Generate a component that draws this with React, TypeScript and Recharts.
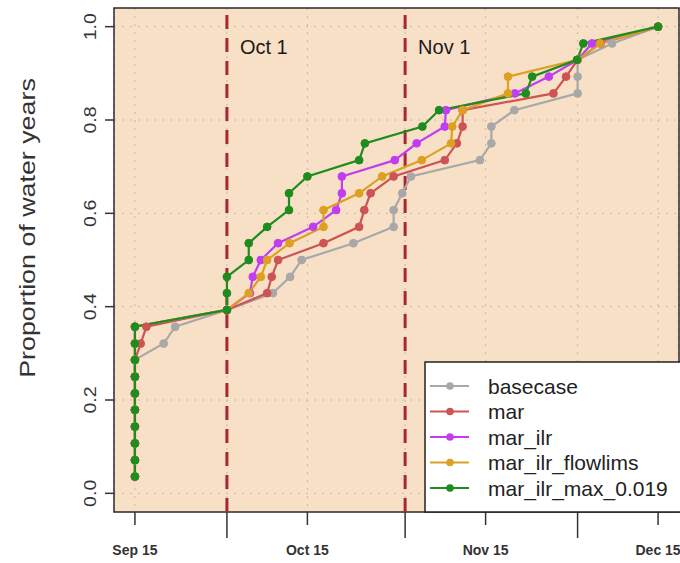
import React from 'react';
import { LineChart, Line, XAxis, YAxis, CartesianGrid, ReferenceLine, ReferenceArea } from 'recharts';

// cumulative proportion of the 28 water years
const propLevels = [
  0.036, 0.071, 0.107, 0.143, 0.179, 0.214, 0.25, 0.286, 0.321, 0.357, 0.393, 0.429, 0.464, 0.5,
  0.536, 0.571, 0.607, 0.643, 0.679, 0.714, 0.75, 0.786, 0.821, 0.857, 0.893, 0.929, 0.964, 1.0,
];

// day (counted from Sep 15) at which each level is reached
const basecaseDays = [0, 0, 0, 0, 0, 0, 0, 0, 5, 7, 16, 24, 27, 29, 38, 45, 45, 46.5, 48, 60, 62, 62, 66, 77, 77, 77, 83, 91];
const marDays = [0, 0, 0, 0, 0, 0, 0, 0, 1, 2, 16, 23, 23.8, 24.9, 32.8, 39, 39.9, 41, 45, 53.9, 56, 57, 57, 72.8, 75, 77, 81, 91];
const marIlrDays = [0, 0, 0, 0, 0, 0, 0, 0, 0, 0, 16, 20, 20.5, 21.9, 24.9, 31, 35, 36, 36, 45.2, 49, 53.9, 54.1, 66.1, 72, 77, 79.5, 91];
const flowlimsDays = [0, 0, 0, 0, 0, 0, 0, 0, 0, 0, 16, 19.8, 21.9, 23, 26.9, 32.8, 32.8, 39, 43, 49.9, 55, 55.2, 57, 64.9, 64.9, 77, 80.9, 91];
const maxDays = [0, 0, 0, 0, 0, 0, 0, 0, 0, 0, 16, 16, 16, 19.8, 19.8, 23, 26.8, 26.8, 30, 39, 40, 50, 52.9, 68, 69.1, 76.9, 78, 91];

const tickDays = [0, 16, 30, 47, 61, 77, 91];
const monthStarts = [16, 47, 77];
const tickLabels: Record<number, string> = { 0: 'Sep 15', 30: 'Oct 15', 61: 'Nov 15', 91: 'Dec 15' };
const yTicks = [0, 0.2, 0.4, 0.6, 0.8, 1.0];

const toPoints = (days: number[]) => days.map((day, i) => ({ day, p: propLevels[i] }));

const series = [
  { name: 'basecase', color: '#a8a8a8', points: toPoints(basecaseDays) },
  { name: 'mar', color: '#cd5454', points: toPoints(marDays) },
  { name: 'mar_ilr', color: '#c03ef0', points: toPoints(marIlrDays) },
  { name: 'mar_ilr_flowlims', color: '#dca022', points: toPoints(flowlimsDays) },
  { name: 'mar_ilr_max_0.019', color: '#1e8c1e', points: toPoints(maxDays) },
];

const FONT = '"Liberation Sans", Arial, Helvetica, sans-serif';
const X_DOMAIN = [-3.64, 94.64];
const Y_DOMAIN = [-0.04, 1.04];

const DateTick = (props: any) => {
  const { x, y, payload } = props;
  const long = monthStarts.includes(payload.value);
  const label = tickLabels[payload.value];
  return (
    <g>
      <line x1={x} x2={x} y1={y} y2={y + (long ? 26 : 13)} stroke="#333" strokeWidth={1.5} />
      {label && (
        <text x={x} y={y + 43} textAnchor="middle" fontSize={14} fontWeight="bold" fill="#333" fontFamily={FONT}>
          {label}
        </text>
      )}
    </g>
  );
};

// vertical labels are slightly stretched along their reading direction
const PropTick = (props: any) => {
  const { y, payload } = props;
  return (
    <text
      transform={`translate(96, ${y}) rotate(-90) scale(1.15, 1)`}
      textAnchor="middle"
      fontSize={17}
      fill="#333"
      fontFamily={FONT}
    >
      {payload.value.toFixed(1)}
    </text>
  );
};

const YTitle = (props: any) => {
  const { viewBox } = props;
  const y = viewBox.y + viewBox.height / 2 - 32;
  return (
    <text
      transform={`translate(35, ${y}) rotate(-90) scale(1.22, 1)`}
      textAnchor="middle"
      fontSize={22}
      fill="#333"
      fontFamily={FONT}
    >
      Proportion of water years
    </text>
  );
};

const MonthLabel = (props: any) => {
  const { viewBox, text } = props;
  return (
    <text x={viewBox.x + 13} y={viewBox.y + 46} fontSize={20} fill="#1a1a1a" fontFamily={FONT}>
      {text}
    </text>
  );
};

const LegendBox = () => (
  <svg width={680} height={563} style={{ position: 'absolute', left: 0, top: 0, pointerEvents: 'none' }}>
    <rect x={425} y={362} width={270} height={150} fill="#fff" stroke="#222" strokeWidth={1.5} />
    {series.map((s, i) => {
      const cy = 386 + i * 25.5;
      return (
        <g key={s.name}>
          <line x1={430} x2={469} y1={cy} y2={cy} stroke={s.color} strokeWidth={2} />
          <circle cx={450} cy={cy} r={3.8} fill={s.color} />
          <text x={488} y={cy + 7.5} fontSize={21} fill="#222" fontFamily={FONT}>
            {s.name}
          </text>
        </g>
      );
    })}
  </svg>
);

export default function App() {
  return (
    <div style={{ position: 'absolute', left: 0, top: 0, width: 680, height: 563, background: '#fff', overflow: 'hidden' }}>
      <LineChart width={680} height={563} margin={{ top: 8, right: 1, bottom: 0, left: 0 }}>
        <CartesianGrid fill="#f8e0c6" stroke="#c4b8a6" strokeDasharray="2 6" />
        <XAxis
          type="number"
          dataKey="day"
          domain={X_DOMAIN}
          ticks={tickDays}
          interval={0}
          height={51}
          tickSize={0}
          tickMargin={0}
          tickLine={false}
          axisLine={false}
          tick={<DateTick />}
          allowDataOverflow
        />
        <YAxis
          type="number"
          dataKey="p"
          domain={Y_DOMAIN}
          ticks={yTicks}
          interval={0}
          width={114}
          tickSize={9}
          tickLine={{ stroke: '#333', strokeWidth: 1.5 }}
          axisLine={false}
          tick={<PropTick />}
          label={<YTitle />}
          allowDataOverflow
        />
        <ReferenceLine x={16} stroke="#a8282d" strokeWidth={3} strokeDasharray="14 9" label={<MonthLabel text="Oct 1" />} />
        <ReferenceLine x={47} stroke="#a8282d" strokeWidth={3} strokeDasharray="14 9" label={<MonthLabel text="Nov 1" />} />
        {series.map((s) => (
          <Line
            key={s.name}
            data={s.points}
            dataKey="p"
            name={s.name}
            type="linear"
            stroke={s.color}
            strokeWidth={2.2}
            dot={{ r: 3.9, fill: s.color, stroke: s.color, strokeWidth: 1 }}
            isAnimationActive={false}
          />
        ))}
        <ReferenceArea
          x1={X_DOMAIN[0]}
          x2={X_DOMAIN[1]}
          y1={Y_DOMAIN[0]}
          y2={Y_DOMAIN[1]}
          fill="none"
          stroke="#2a2a2a"
          strokeWidth={1.5}
          ifOverflow="visible"
        />
      </LineChart>
      <LegendBox />
    </div>
  );
}
